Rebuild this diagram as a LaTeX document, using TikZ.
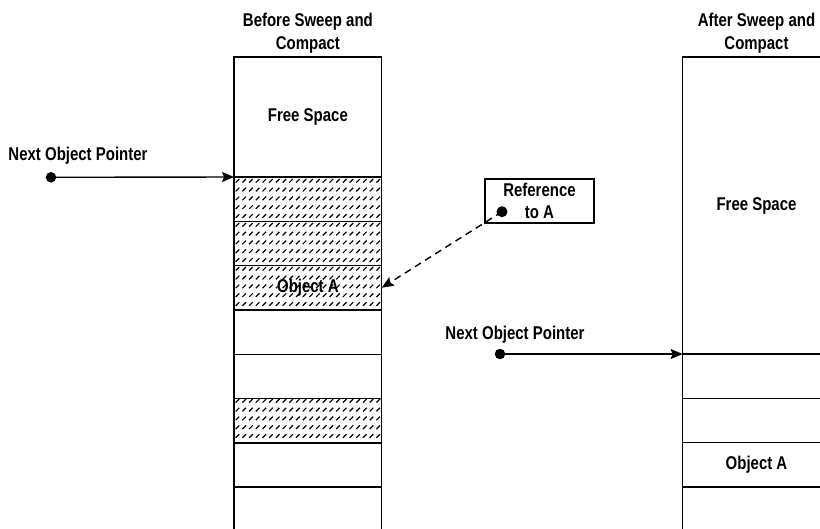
\documentclass[tikz,border=0pt]{standalone}
\usepackage{fontspec}
\setmainfont{Liberation Sans}[FakeStretch=0.81]
\usepackage{tikz}
\usetikzlibrary{positioning, arrows.meta, patterns}

% short slanted dashes used for the live objects
\pgfdeclarepatternformonly{shorthatch}{\pgfpoint{-1pt}{-1pt}}{\pgfpoint{7.7pt}{9.8pt}}{\pgfpoint{6.7pt}{8.8pt}}{%
  \pgfsetlinewidth{1.2pt}%
  \pgfpathmoveto{\pgfpoint{1.2pt}{2.2pt}}%
  \pgfpathlineto{\pgfpoint{4.8pt}{5.8pt}}%
  \pgfusepath{stroke}}

\begin{document}
\begin{tikzpicture}[
  x=1pt, y=-1pt,
  font=\fontsize{18.5}{22.5}\selectfont\bfseries,
  >={Stealth[length=12pt, width=10pt, inset=2pt]},
  cell/.style={draw, line width=1.4pt, outer sep=0pt, inner sep=0pt,
               minimum width=147.7pt, minimum height=44.3pt},
  hatched/.style={cell, pattern=shorthatch},
  heading/.style={align=center, inner sep=2pt},
  refbox/.style={draw, line width=1.4pt, align=center, inner sep=0pt,
                 minimum width=109pt, minimum height=44pt},
  dot/.style={circle, fill, inner sep=0pt, minimum size=10.5pt},
  pointer/.style={->, line width=1.4pt},
  refarrow/.style={->, line width=1.4pt, dash pattern=on 7pt off 5pt}
]

\clip (0,0) rectangle (820,528);

% ---------- Heap before sweep and compact ----------
\node[cell, minimum height=120pt] (befree) at (307.9,117) {Free Space};
\node[hatched, below=0pt of befree] (be1) {};
\node[hatched, below=0pt of be1] (be2) {};
\node[hatched, below=0pt of be2] (be3) {Object A};
\node[cell, below=0pt of be3] (be4) {};
\node[cell, below=0pt of be4] (be5) {};
\node[hatched, below=0pt of be5] (be6) {};
\node[cell, below=0pt of be6] (be7) {};
\node[cell, below=0pt of be7] (be8) {};
\node[heading, above=1.5pt of befree] (betitle) {Before Sweep and\\Compact};

% ---------- Heap after sweep and compact ----------
\node[cell, minimum height=297pt] (affree) at (756.5,205.5) {Free Space};
\node[cell, below=0pt of affree] (af1) {};
\node[cell, below=0pt of af1] (af2) {};
\node[cell, below=0pt of af2] (af3) {Object A};
\node[cell, below=0pt of af3] (af4) {};
\node[heading, above=1.5pt of affree] (aftitle) {After Sweep and\\Compact};

% ---------- Next object pointers ----------
\node[anchor=base] (beptrlabel) at (78,160.7) {Next Object Pointer};
\node[dot] (beptr) at (51,177.3) {};
\draw[pointer] (beptr.center) -- (be1.north west);

\node[anchor=base] (afptrlabel) at (515,339) {Next Object Pointer};
\node[dot] (afptr) at (500,354) {};
\draw[pointer] (afptr.center) -- (af1.north west);

% ---------- Reference to A ----------
\node[refbox] (ref) at (539.5,201) {Reference\\to A};
\node[dot, minimum size=11pt] (refdot) at (502,211.7) {};
\draw[refarrow] (refdot.center) -- (be3.east);

\end{tikzpicture}
\end{document}
